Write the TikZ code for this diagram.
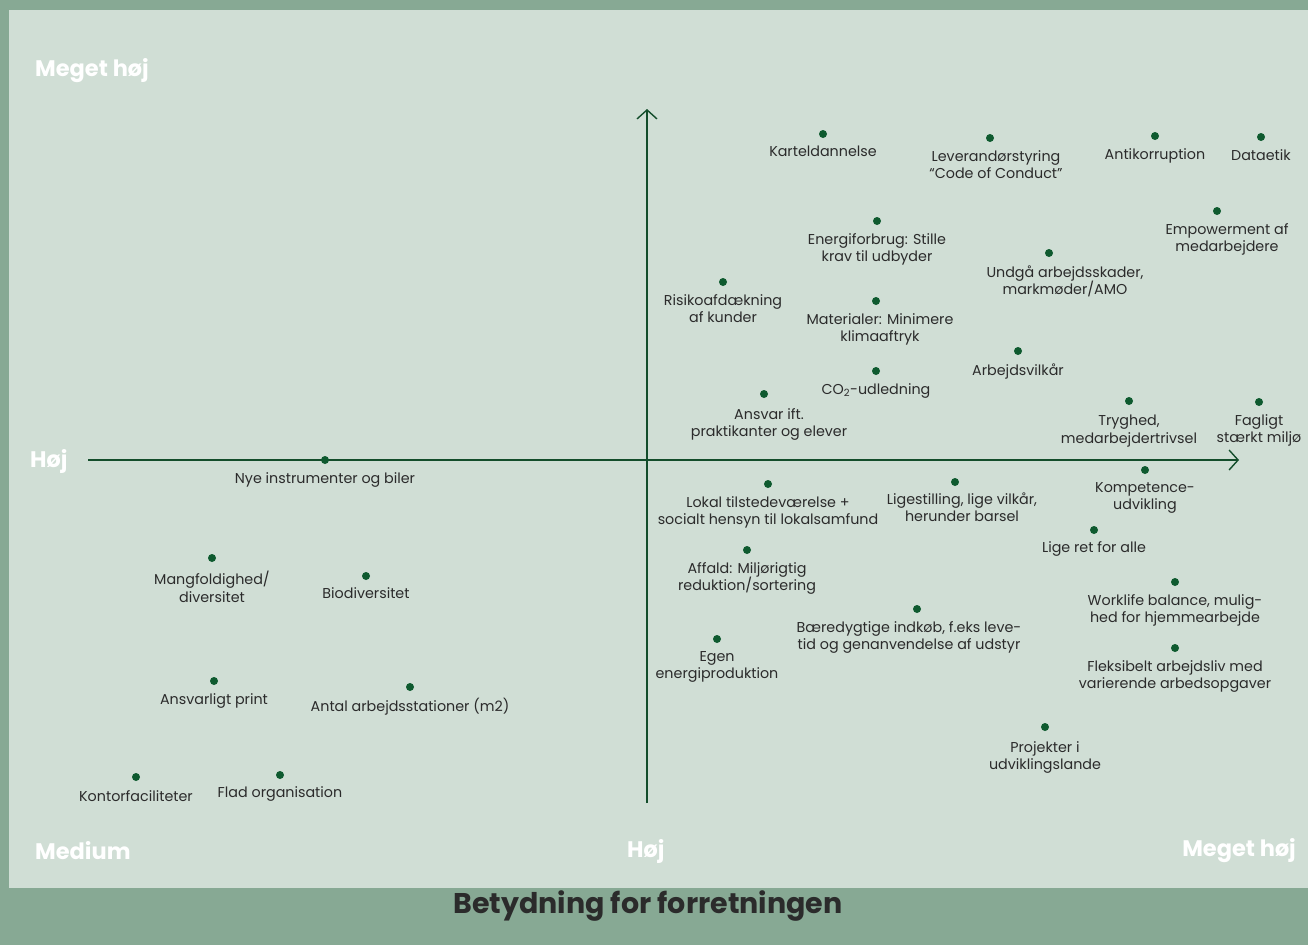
\documentclass[tikz,border=0pt]{standalone}
\usepackage{fontspec}
\setmainfont{Poppins}
\usetikzlibrary{positioning,arrows.meta}
\definecolor{outergreen}{HTML}{87A994}
\definecolor{panelgreen}{HTML}{D0DED5}
\definecolor{dotgreen}{HTML}{0E5A2F}
\definecolor{axisgreen}{HTML}{134D2B}
\definecolor{labeltext}{HTML}{2B2B2B}
\tikzset{
  pt/.style={circle,fill=dotgreen,inner sep=0pt,minimum size=8pt},
  lbl/.style={align=center,inner sep=0pt,text=labeltext,font=\fontsize{14.3}{17.6}\selectfont},
  corner/.style={inner sep=0pt,text=white,font=\fontsize{22.5}{24}\selectfont\bfseries},
  axis/.style={axisgreen,line width=1.6pt,-{Straight Barb[length=9pt,width=20pt,line width=1.4pt]}}
}
\begin{document}
\begin{tikzpicture}[x=1pt,y=-1pt]
    % background and panel
    \fill[outergreen] (0,0) rectangle (1308,945);
    \fill[panelgreen] (9,10) rectangle (1308,888);
    % axes
    \coordinate (xstart) at (88,460);
    \coordinate (xend) at (1239,460);
    \coordinate (ystart) at (647,803);
    \coordinate (yend) at (647,109);
    \draw[axis] (xstart) -- (xend);
    \draw[axis] (ystart) -- (yend);
    % corner labels
    \node[corner,anchor=west] (tl) at (35,71) {Meget høj};
    \node[corner,anchor=west] (ml) at (30,461) {Høj};
    \node[corner,anchor=west] (bl) at (35,851) {Medium};
    \node[corner,anchor=west] (bm) at (627,851) {Høj};
    \node[corner,anchor=east] (br) at (1296,851) {Meget høj};
    \node[text=labeltext,font=\fontsize{28.5}{30}\selectfont\bfseries] (title) at (648,906) {Betydning for forretningen};
    % upper right
    \node[pt] (kartel) at (823,134) {};
    \node[lbl,below=8pt of kartel] (kartel-l) {Karteldannelse};
    \node[pt] (lev) at (990,138) {};
    \node[lbl,below=8pt of lev,xshift=6pt] (lev-l) {Leverandørstyring\\“Code of Conduct”};
    \node[pt] (anti) at (1155,136) {};
    \node[lbl,below=8pt of anti] (anti-l) {Antikorruption};
    \node[pt] (data) at (1261,137) {};
    \node[lbl,below=8pt of data] (data-l) {Dataetik};
    \node[pt] (energi) at (877,221) {};
    \node[lbl,below=8pt of energi] (energi-l) {Energiforbrug: Stille\\krav til udbyder};
    \node[pt] (empow) at (1217,211) {};
    \node[lbl,below=8pt of empow,xshift=10pt] (empow-l) {Empowerment af\\medarbejdere};
    \node[pt] (undga) at (1049,253) {};
    \node[lbl,below=8pt of undga,xshift=16pt] (undga-l) {Undgå arbejdsskader,\\markmøder/AMO};
    \node[pt] (risiko) at (723,282) {};
    \node[lbl,below=8pt of risiko] (risiko-l) {Risikoafdækning\\af kunder};
    \node[pt] (mat) at (876,301) {};
    \node[lbl,below=8pt of mat,xshift=4pt] (mat-l) {Materialer: Minimere\\klimaaftryk};
    \node[pt] (co2) at (876,371) {};
    \node[lbl,below=8pt of co2] (co2-l) {CO\textsubscript{2}-udledning};
    \node[pt] (vilkar) at (1018,351) {};
    \node[lbl,below=8pt of vilkar] (vilkar-l) {Arbejdsvilkår};
    \node[pt] (ansvar) at (764,394) {};
    \node[lbl,below=10pt of ansvar,xshift=5pt] (ansvar-l) {Ansvar ift.\\praktikanter og elever};
    \node[pt] (tryg) at (1129,401) {};
    \node[lbl,below=10pt of tryg] (tryg-l) {Tryghed,\\medarbejdertrivsel};
    \node[pt] (faglig) at (1259,402) {};
    \node[lbl,below=8pt of faglig] (faglig-l) {Fagligt\\stærkt miljø};
    % lower right
    \node[pt] (lokal) at (768,484) {};
    \node[lbl,below=8pt of lokal] (lokal-l) {Lokal tilstedeværelse +\\socialt hensyn til lokalsamfund};
    \node[pt] (lige) at (955,482) {};
    \node[lbl,below=6pt of lige,xshift=7pt] (lige-l) {Ligestilling, lige vilkår,\\herunder barsel};
    \node[pt] (komp) at (1145,470) {};
    \node[lbl,below=8pt of komp] (komp-l) {Kompetence-\\udvikling};
    \node[pt] (ret) at (1094,530) {};
    \node[lbl,below=7pt of ret] (ret-l) {Lige ret for alle};
    \node[pt] (affald) at (747,550) {};
    \node[lbl,below=8pt of affald] (affald-l) {Affald: Miljørigtig\\reduktion/sortering};
    \node[pt] (work) at (1175,582) {};
    \node[lbl,below=8pt of work] (work-l) {Worklife balance, mulig-\\hed for hjemmearbejde};
    \node[pt] (indkob) at (917,609) {};
    \node[lbl,below=8pt of indkob,xshift=-8pt] (indkob-l) {Bæredygtige indkøb, f.eks leve-\\tid og genanvendelse af udstyr};
    \node[pt] (egen) at (717,639) {};
    \node[lbl,below=8pt of egen] (egen-l) {Egen\\energiproduktion};
    \node[pt] (fleks) at (1175,648) {};
    \node[lbl,below=8pt of fleks] (fleks-l) {Fleksibelt arbejdsliv med\\varierende arbedsopgaver};
    \node[pt] (proj) at (1045,727) {};
    \node[lbl,below=10pt of proj] (proj-l) {Projekter i\\udviklingslande};
    % left half
    \node[pt] (nye) at (325,460) {};
    \node[lbl,below=8pt of nye] (nye-l) {Nye instrumenter og biler};
    \node[pt] (mangfold) at (212,558) {};
    \node[lbl,below=9pt of mangfold] (mangfold-l) {Mangfoldighed/\\diversitet};
    \node[pt] (bio) at (366,576) {};
    \node[lbl,below=7pt of bio] (bio-l) {Biodiversitet};
    \node[pt] (print) at (214,681) {};
    \node[lbl,below=8pt of print] (print-l) {Ansvarligt print};
    \node[pt] (antal) at (410,687) {};
    \node[lbl,below=7pt of antal] (antal-l) {Antal arbejdsstationer (m2)};
    \node[pt] (kontor) at (136,777) {};
    \node[lbl,below=9pt of kontor] (kontor-l) {Kontorfaciliteter};
    \node[pt] (flad) at (280,775) {};
    \node[lbl,below=7pt of flad] (flad-l) {Flad organisation};
\end{tikzpicture}
\end{document}
